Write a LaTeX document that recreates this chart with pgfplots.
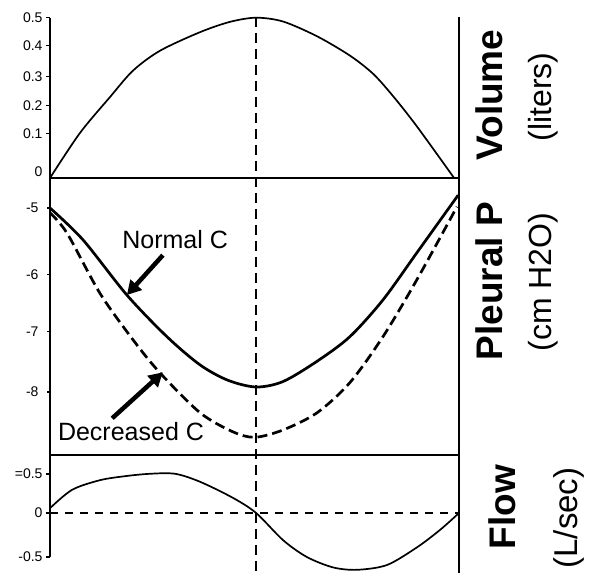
\documentclass[border=0pt]{standalone}
\usepackage{fontspec}
\setmainfont{Liberation Sans}
\usepackage{pgfplots}
\pgfplotsset{compat=1.18}
\usetikzlibrary{arrows.meta}

\pgfplotsset{
  panel/.style={
    scale only axis, width=409pt, xmin=0, xmax=100, clip=false,
    xtick=\empty, anchor=south west,
    axis line style={line width=2.5pt},
    tick style={line width=1.2pt, black},
    major tick length=4pt, tick align=outside,
    yticklabel style={font=\fontsize{14}{16}\selectfont, anchor=east},
  },
}

\begin{document}
\begin{tikzpicture}[x=1pt,y=1pt]
\useasboundingbox (0,0) rectangle (592,581);

% ---------- Volume ----------
\begin{axis}[panel, at={(50pt,403pt)}, height=160.3pt,
  ymin=0, ymax=0.5,
  axis x line*=bottom, axis y line*=left,
  ytick={0.139,0.2255,0.316,0.4127,0.5},
  yticklabels={0.1,0.2,0.3,0.4,0.5},
  extra y ticks={0.019}, extra y tick labels={0},
  extra y tick style={major tick length=0pt, yticklabel style={xshift=-4pt}},
]
\addplot[black, line width=1.7pt, smooth] coordinates {
 (0,0) (7.3,0.140) (14.7,0.253) (20.3,0.335) (26.9,0.397) (36.7,0.455)
 (44,0.487) (50.4,0.5) (57.0,0.488) (65.3,0.442) (73.3,0.382) (79.0,0.325)
 (83.9,0.255) (89.7,0.161) (98.8,0)};
\end{axis}

% ---------- Pleural pressure ----------
\begin{axis}[panel, at={(50pt,126pt)}, height=277pt,
  ymin=-9.029, ymax=-4.511,
  axis x line*=bottom, axis y line*=left,
  ytick={-8,-7.02,-6.08,-5},
  yticklabels={-8,-7,-6,-5},
  major tick length=3pt,
  yticklabel style={xshift=-5pt},
]
\addplot[black, line width=2.7pt, smooth] coordinates {
 (0,-5.00) (8.07,-5.52) (18.8,-6.42) (28.6,-7.10) (36.7,-7.56) (43.5,-7.81)
 (50.4,-7.92) (57.0,-7.83) (65.3,-7.50) (73.3,-7.10) (81.4,-6.50)
 (89.7,-5.73) (99.8,-4.79)};
\addplot[black, line width=2.7pt, smooth, dash pattern=on 10pt off 5pt] coordinates {
 (0,-5.08) (4.16,-5.41) (12.2,-6.39) (20.3,-7.15) (26.9,-7.69) (36.7,-8.34)
 (44.7,-8.65) (50.1,-8.74) (57.0,-8.62) (65.3,-8.34) (73.3,-7.85)
 (81.4,-7.10) (89.7,-6.17) (99.5,-4.98)};
\node[font=\fontsize{25}{29}\selectfont] at (axis cs:30.6,-5.52) {Normal C};
\node[font=\fontsize{25}{29}\selectfont] at (axis cs:19.8,-8.65) {Decreased C};
\draw[line width=4.5pt, -{Triangle[length=14pt,width=15pt]}]
  (axis cs:27.6,-5.77) -- (axis cs:18.8,-6.42);
\draw[line width=4.5pt, -{Triangle[length=14pt,width=15pt]}]
  (axis cs:15.2,-8.43) -- (axis cs:27.6,-7.68);
\end{axis}

% ---------- Flow ----------
\begin{axis}[panel, at={(50pt,24pt)}, height=102pt,
  ymin=-0.55, ymax=0.725,
  axis x line=none, axis y line*=left,
  ytick={-0.55,0,0.4875},
  yticklabels={-0.5,0,=0.5},
]
\addplot[black, line width=1.7pt, dash pattern=on 8pt off 7pt] coordinates {(0,0) (100,0)};
\addplot[black, line width=1.7pt, smooth] coordinates {
 (0,0.06) (5.4,0.29) (12.2,0.41) (18.3,0.46) (24.4,0.49) (30.6,0.49)
 (36.7,0.39) (44.7,0.19) (50.4,0) (57.0,-0.34) (62.8,-0.55) (69.2,-0.68)
 (75.1,-0.71) (82.4,-0.65) (89.7,-0.43) (95.4,-0.21) (100,0)};
\end{axis}

% right border line and mid-cycle dashed line
\draw[line width=2.5pt] (459,564) -- (459,8);
\draw[line width=2pt, dash pattern=on 10pt off 6pt] (256.1,564) -- (256.1,6);

% right-hand labels
\node[rotate=90, font=\fontsize{37}{40}\selectfont\bfseries] at (489,486) {Volume};
\node[rotate=90, font=\fontsize{32}{36}\selectfont] at (543,484) {(liters)};
\node[rotate=90, font=\fontsize{37}{40}\selectfont\bfseries] at (489,300) {Pleural P};
\node[rotate=90, font=\fontsize{32}{36}\selectfont] at (543,299) {(cm H2O)};
\node[rotate=90, font=\fontsize{37}{40}\selectfont\bfseries] at (502,74) {Flow};
\node[rotate=90, font=\fontsize{33}{36}\selectfont] at (569,63) {(L/sec)};
\end{tikzpicture}
\end{document}
